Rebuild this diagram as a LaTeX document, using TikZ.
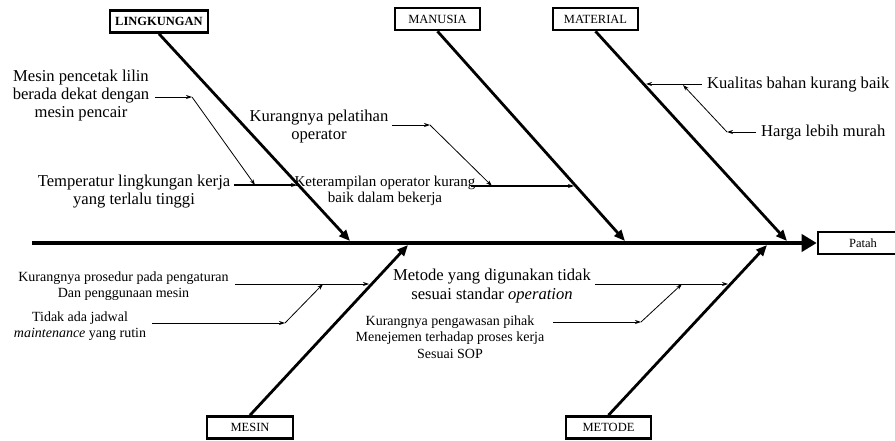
\documentclass[tikz,border=0pt]{standalone}
\usepackage{fontspec}
\setmainfont{Liberation Serif}
\usetikzlibrary{arrows.meta}
\begin{document}
\begin{tikzpicture}[x=1pt,y=-1pt,
  catbox/.style={draw,line width=2.6pt,minimum height=22pt,inner sep=0pt,font=\fontsize{12.5}{14}\selectfont},
  bone/.style={line width=2.8pt,-{Triangle[length=11pt,width=9pt]}},
  spine/.style={line width=4.3pt,-{Triangle[length=15pt,width=17pt]}},
  sub/.style={line width=0.8pt,-{Stealth[length=6pt,width=4pt]}},
  big/.style={align=center,inner sep=0pt,font=\fontsize{16.6}{18}\selectfont},
  small/.style={align=center,inner sep=0pt,font=\fontsize{14}{16.5}\selectfont},
]
\useasboundingbox (0,0) rectangle (895,441);
\clip (0,0) rectangle (895,441);

% category boxes
\node[catbox,minimum width=98pt,font=\bfseries\fontsize{12.5}{14}\selectfont] (ling) at (159,21.5) {LINGKUNGAN};
\node[catbox,minimum width=85pt] (manu) at (437.5,19) {MANUSIA};
\node[catbox,minimum width=85pt] (mate) at (595.5,19) {MATERIAL};
\node[catbox,minimum width=86pt] (mesi) at (250,427.5) {MESIN};
\node[catbox,minimum width=85pt] (meto) at (608.5,427.5) {METODE};
\node[catbox,minimum width=90pt] (pata) at (863,243) {Patah};

% spine
\coordinate (tail) at (32,243);
\draw[spine] (tail) -- (pata.west);

% bones
\coordinate (c1) at (350,241);
\coordinate (c2) at (625,241);
\coordinate (c3) at (787,241);
\coordinate (c4) at (408,245);
\coordinate (c5) at (767,245);
\draw[bone] (ling.south) -- (c1);
\draw[bone] (manu.south) -- (c2);
\draw[bone] (mate.south) -- (c3);
\draw[bone] (mesi.north) -- (c4);
\draw[bone] (meto.north) -- (c5);

% LINGKUNGAN causes
\node[big] (mp) at (81,96) {Mesin pencetak lilin\\berada dekat dengan\\mesin pencair};
\node[big] (tt) at (134,192) {Temperatur lingkungan kerja\\yang terlalu tinggi};
\coordinate (p1a) at (155,97);
\coordinate (p1b) at (192,97);
\coordinate (p1c) at (255,185);
\coordinate (t1a) at (234,185);
\coordinate (t1b) at (297,185);
\draw[sub] (p1a) -- (p1b);
\draw[sub] (p1b) -- (p1c);
\draw[sub,line width=1.1pt] (t1a) -- (t1b);

% MANUSIA causes
\node[big] (kp) at (319,127) {Kurangnya pelatihan\\operator};
\node[align=center,inner sep=0pt,font=\fontsize{15}{16.5}\selectfont] (kt) at (385,191) {Keterampilan operator kurang\\baik dalam bekerja};
\coordinate (p2a) at (392,125);
\coordinate (p2b) at (430,125);
\coordinate (p2c) at (492,186);
\coordinate (t2a) at (471,186);
\coordinate (t2b) at (574,186);
\draw[sub] (p2a) -- (p2b);
\draw[sub] (p2b) -- (p2c);
\draw[sub,line width=1.1pt] (t2a) -- (t2b);

% MATERIAL causes
\node[big,anchor=west] (kq) at (707,85) {Kualitas bahan kurang baik};
\node[big,anchor=west] (hg) at (761,133) {Harga lebih murah};
\coordinate (q1a) at (702,84);
\coordinate (q1b) at (646,84);
\coordinate (q2a) at (756,132);
\coordinate (q2b) at (727,132);
\coordinate (q2c) at (683,85);
\draw[sub] (q1a) -- (q1b);
\draw[sub] (q2a) -- (q2b);
\draw[sub] (q2b) -- (q2c);

% MESIN causes
\node[small] (kpr) at (123.5,286) {Kurangnya prosedur pada pengaturan\\Dan penggunaan mesin};
\node[small] (tj) at (80,326) {Tidak ada jadwal\\\textit{maintenance} yang rutin};
\coordinate (m1a) at (235,284);
\coordinate (m1b) at (369,284);
\coordinate (m2a) at (152,323);
\coordinate (m2b) at (285,323);
\coordinate (m2c) at (323,284);
\draw[sub] (m1a) -- (m1b);
\draw[sub] (m2a) -- (m2b);
\draw[sub] (m2b) -- (m2c);

% METODE causes
\node[align=center,inner sep=0pt,font=\fontsize{16.6}{19.5}\selectfont] (mt) at (492,286) {Metode yang digunakan tidak\\sesuai standar \textit{operation}};
\node[small] (kpw) at (450,337) {Kurangnya pengawasan pihak\\Menejemen terhadap proses kerja\\Sesuai SOP};
\coordinate (e1a) at (595,284);
\coordinate (e1b) at (728,284);
\coordinate (e2a) at (553,322);
\coordinate (e2b) at (641,322);
\coordinate (e2c) at (682,284);
\draw[sub] (e1a) -- (e1b);
\draw[sub] (e2a) -- (e2b);
\draw[sub] (e2b) -- (e2c);
\end{tikzpicture}
\end{document}
